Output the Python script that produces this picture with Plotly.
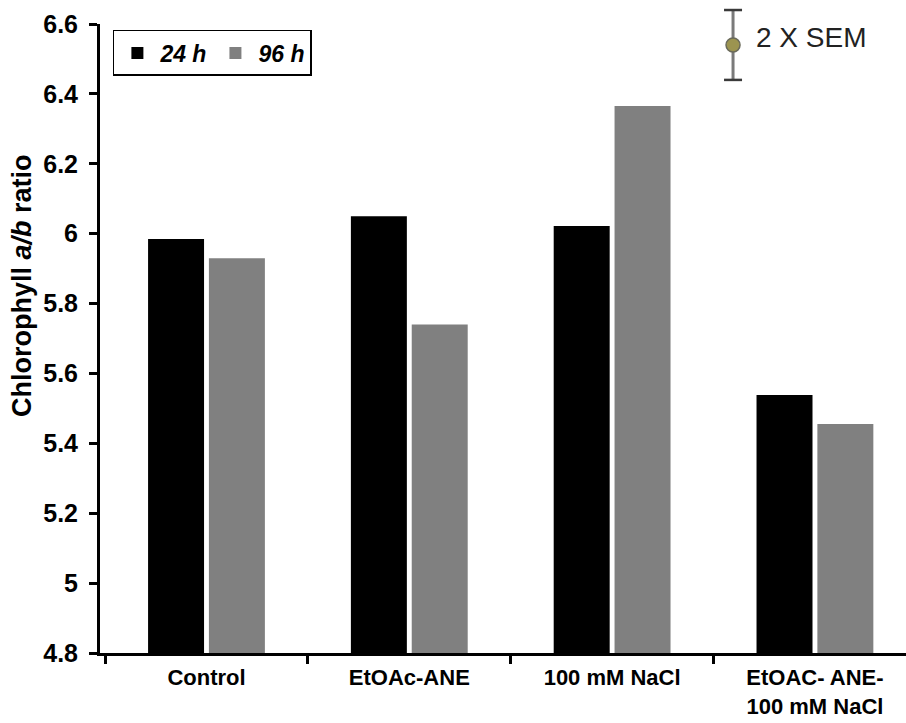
import plotly.graph_objects as go

categories = ["Control", "EtOAc-ANE", "100 mM NaCl", "EtOAC- ANE-<br>100 mM NaCl"]
vals_24h = [5.985, 6.05, 6.022, 5.538]
vals_96h = [5.93, 5.74, 6.365, 5.455]
series_names = ["<b><i>24 h</i></b>", "<b><i>96 h</i></b>"]
y_ticks = [4.8, 5.0, 5.2, 5.4, 5.6, 5.8, 6.0, 6.2, 6.4, 6.6]
y_tick_text = ["4.8", "5", "5.2", "5.4", "5.6", "5.8", "6", "6.2", "6.4", "6.6"]
y_range = [4.8, 6.6]
sem_center = 6.54
sem_half = 0.1

FONT = "Arial, Liberation Sans, sans-serif"


def ypaper(v):
    return (v - y_range[0]) / (y_range[1] - y_range[0])


fig = go.Figure()
fig.add_trace(go.Bar(x=categories, y=vals_24h, name=series_names[0],
                     marker=dict(color="#000000", line=dict(width=0))))
fig.add_trace(go.Bar(x=categories, y=vals_96h, name=series_names[1],
                     marker=dict(color="#808080", line=dict(width=0))))

# 2 X SEM key (drawn in paper coordinates so it may extend above the plot area)
key_x = 0.7854
shapes = [
    dict(type="line", xref="paper", yref="paper", x0=key_x, x1=key_x,
         y0=ypaper(sem_center - sem_half), y1=ypaper(sem_center + sem_half),
         line=dict(color="#7a7a7a", width=3)),
]
for v in (sem_center - sem_half, sem_center + sem_half):
    shapes.append(dict(type="line", xref="paper", yref="paper", xsizemode="pixel",
                       xanchor=key_x, x0=-9, x1=9, y0=ypaper(v), y1=ypaper(v),
                       line=dict(color="#3a3a3a", width=2.5)))
shapes.append(dict(type="circle", xref="paper", yref="paper", xsizemode="pixel",
                   ysizemode="pixel", xanchor=key_x, yanchor=ypaper(sem_center),
                   x0=-7, x1=7, y0=-7, y1=7, fillcolor="#9c9450",
                   line=dict(color="#6a6a5a", width=1.5)))

annotations = [
    dict(text="2 X SEM", xref="paper", yref="paper", x=0.812, y=ypaper(sem_center + 0.02),
         xanchor="left", yanchor="middle", showarrow=False,
         font=dict(family=FONT, size=28, color="#222222")),
    dict(text="<b>Chlorophyll <i>a/b</i> ratio</b>", xref="paper", yref="paper",
         x=-0.0968, y=0.585, xanchor="center", yanchor="middle", textangle=-90,
         showarrow=False, font=dict(family=FONT, size=27, color="#000000")),
]

fig.update_layout(
    width=906, height=723,
    margin=dict(l=100, r=0, t=24, b=70),
    paper_bgcolor="white", plot_bgcolor="white",
    barmode="group", bargap=0.40, bargroupgap=0.08,
    font=dict(family=FONT, color="#000000"),
    shapes=shapes, annotations=annotations,
    legend=dict(orientation="h", x=0.016, y=0.9905, xanchor="left", yanchor="top",
                bordercolor="#000000", borderwidth=1.5, bgcolor="white",
                font=dict(family=FONT, size=23, color="#000000"),
                itemwidth=36, traceorder="normal"),
    xaxis=dict(type="category", range=[-0.525, 3.449], showline=True,
               linecolor="#000000", linewidth=3, automargin=False,
               ticks="outside", tickson="boundaries", ticklen=8, tickwidth=3,
               tickcolor="#000000", showgrid=False, zeroline=False,
               ticklabelstandoff=3,
               tickfont=dict(family=FONT, size=22, color="#000000"),
               tickprefix="<b>", ticksuffix="</b>"),
    yaxis=dict(range=y_range, tickvals=y_ticks, automargin=False,
               ticktext=["<b>" + t + "</b>" for t in y_tick_text],
               showline=True, linecolor="#000000", linewidth=3,
               ticks="outside", ticklen=8, tickwidth=3, tickcolor="#000000",
               showgrid=False, zeroline=False, ticklabelstandoff=6,
               tickfont=dict(family=FONT, size=25, color="#000000")),
)

fig.write_html("out.html")
